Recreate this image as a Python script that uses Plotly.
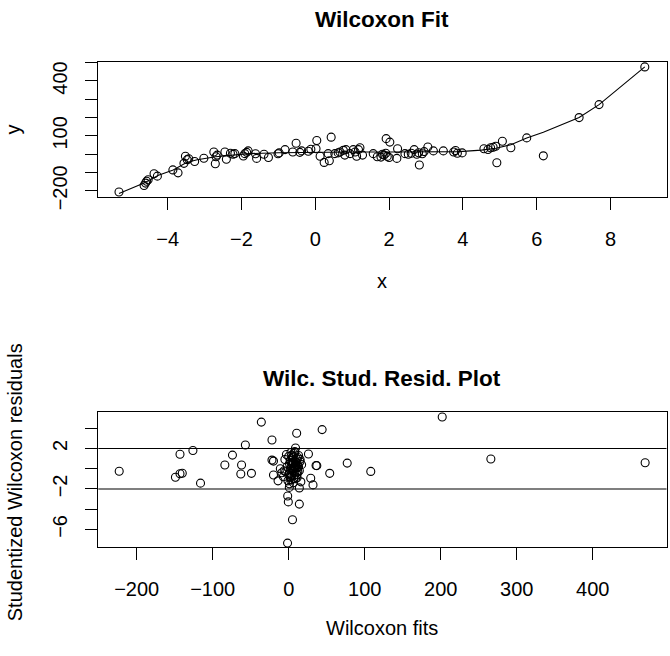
import plotly.graph_objects as go

# ---- Wilcoxon fit: observed points ----
x_obs = [-5.32, -4.64, -4.60, -4.57, -4.53, -4.37, -4.28, -3.86, -3.72, -3.52,
         -3.56, -3.47, -3.43, -3.27, -3.02, -2.75, -2.69, -2.71, -2.66, -2.45,
         -2.41, -2.30, -2.23, -2.18, -1.95, -1.91, -1.86, -1.82, -1.59, -1.62,
         -1.39, -1.27, -0.98, -1.01, -0.82, -0.61, -0.52, -0.42, -0.37, -0.19,
         -0.12, 0.04, 0.02, 0.13, 0.24, 0.38, 0.43, 0.35, 0.53, 0.62,
         0.67, 0.76, 0.83, 0.80, 0.94, 1.03, 1.08, 1.12, 1.17, 1.21,
         1.28, 1.57, 1.68, 1.78, 1.82, 1.86, 1.91, 1.92, 1.95, 2.02,
         2.00, 2.23, 2.21, 2.43, 2.52, 2.60, 2.68, 2.75, 2.80, 2.82,
         2.90, 2.95, 3.05, 3.20, 3.47, 3.75, 3.80, 3.85, 3.98, 4.57,
         4.68, 4.75, 4.82, 4.89, 4.92, 5.07, 5.30, 5.73, 6.18, 7.15,
         7.69, 8.93]
y_obs = [-207, -171, -158, -148, -140, -107, -120, -86, -102, -11,
         -50, -30, -25, -40, -22, 12, -14, -52, -5, 12,
         -28, 5, 0, 3, -10, 3, 10, 18, -23, 2,
         0, -18, 7, 2, 25, 12, 60, 10, 18, 16,
         27, 75, 30, -11, -45, -36, 93, 3, 3, 7,
         12, 21, 25, -5, 3, 25, 12, -11, 25, 35,
         -5, 3, -14, -16, 0, -5, 5, 85, -12, 66,
         -18, 30, -23, 3, 0, 5, 25, 0, 8, -59,
         2, 14, 39, 18, 18, 12, 20, 5, 7, 30,
         26, 35, 38, 43, -47, 71, 35, 89, -9, 200,
         271, 477]

# ---- fitted curve ----
fit_x = [-5.32, -4.64, -4.25, -3.85, -3.49, -3.20, -2.70, -2.20, -1.80, -1.00,
         0.00, 1.00, 2.00, 3.00, 3.90, 4.50, 4.90, 5.30, 5.73, 6.18,
         7.15, 7.69, 8.93]
fit_y = [-215, -158, -115, -86, -45, -30, -14, -3, 3, 8,
         11, 12, 12, 12, 14, 22, 32, 52, 88, 120,
         200, 271, 477]

# ---- studentized residuals vs fits ----
wfits = [-223, -149, -143, -140, -143, -126, -116, -84, -74, -63,
         -62, -57, -49, -36, -22, -22, -20, -20, -14, -11,
         -9, 10.5, 9, 8, 26, 36, 37, 29, 32, 44,
         54, 77, 108, 202, 266, 469, -1.3, -0.5, 14, 5,
         -1.5, 0.8, 14,
         0, 2, 4, 5, 6, 7, 8, 9, 10, 11,
         12, 3, 1, -2, -4, -5, -7, 13, 14, 15,
         16, 8, 3, -3, 11, 6, 4, 9, 12, 1,
         -1, 7, 10, 2, 5, 0, 3, 6, 9, 12,
         15, 4, 7, 10, 2, 13, -6, 17, 1, 8,
         5, 7, 3, 9, 11, 6, 2, 10]
wresid = [-0.26, -0.85, -0.50, -0.45, 1.43, 1.80, -1.43, 0.36, 1.34, -0.52,
          0.36, 2.34, -0.46, 4.60, 2.83, 0.85, 0.75, -0.62, -1.20, 0.00,
          -0.40, 3.50, 2.05, 1.70, 1.45, 0.32, 0.30, -0.95, -1.60, 3.86,
          -0.46, 0.55, -0.27, 5.10, 0.96, 0.58, -2.70, -3.28, -3.50, -5.05,
          -7.35, -1.85, -1.90,
          1.2, 0.8, 0.3, -0.2, 0.6, 1.5, -0.6, 0.1, 1.0, -0.9,
          0.4, -1.1, -0.5, 0.2, -0.3, 0.9, -0.8, 1.3, -0.2, 0.7,
          -1.3, 1.6, 1.6, 1.4, 0.1, -1.4, -0.7, -1.0, 1.1, 0.5,
          -1.2, 0.2, -0.4, -0.1, 1.1, -0.6, 0.6, 0.0, 0.4, -0.3,
          0.9, 1.3, -1.0, 0.6, -0.8, 0.2, -0.2, 0.4, -1.5, 0.0,
          0.5, -0.3, 0.0, 0.7, -0.6, 1.2, -0.9, 0.3]
ref_lines = [2, -2]

# ---- tick labels ----
top_x_ticks = [-4, -2, 0, 2, 4, 6, 8]
top_y_ticks = [-200, -100, 0, 100, 200, 300, 400, 500]
top_y_text = ["\u2212200", "", "", "100", "", "", "400", ""]
bot_x_ticks = [-200, -100, 0, 100, 200, 300, 400]
bot_y_ticks = [-6, -4, -2, 0, 2, 4]
bot_y_text = ["\u22126", "", "\u22122", "", "2", ""]

W, H = 670, 656
FONT = "Liberation Sans, Arial, Helvetica, sans-serif"
TICK = 20
TITLE = 22.5
BLACK = "#000000"


def px(xp):
    return xp / W


def py(yp):
    return 1 - yp / H


def minus(v):
    return f"{v:g}".replace("-", "\u2212")


marker = dict(symbol="circle-open", size=8, color=BLACK, line=dict(width=1.1, color=BLACK))

fig = go.Figure()
fig.add_trace(go.Scatter(x=x_obs, y=y_obs, mode="markers", marker=marker,
                         xaxis="x", yaxis="y", showlegend=False))
fig.add_trace(go.Scatter(x=fit_x, y=fit_y, mode="lines",
                         line=dict(color=BLACK, width=1.1),
                         xaxis="x", yaxis="y", showlegend=False))
fig.add_trace(go.Scatter(x=wfits, y=wresid, mode="markers", marker=marker,
                         xaxis="x2", yaxis="y2", showlegend=False))

axis_common = dict(showgrid=False, zeroline=False, showline=True, mirror=True,
                   linecolor=BLACK, linewidth=1, ticks="outside", ticklen=12,
                   tickwidth=1, tickcolor=BLACK,
                   tickfont=dict(family=FONT, size=TICK, color=BLACK))

x_dom = [px(98.3), px(666.5)]

fig.update_layout(
    width=W, height=H,
    margin=dict(l=0, r=0, t=0, b=0),
    paper_bgcolor="white", plot_bgcolor="white",
    xaxis=dict(axis_common, domain=x_dom, anchor="y", range=[-5.881, 9.518],
               tickvals=top_x_ticks, ticktext=[minus(v) for v in top_x_ticks],
               ticklabelstandoff=12),
    yaxis=dict(axis_common, domain=[py(200.9), py(63.3)], anchor="x",
               range=[-233.6, 503.6], tickvals=top_y_ticks, ticktext=top_y_text,
               tickangle=-90, ticklabelstandoff=10),
    xaxis2=dict(axis_common, domain=x_dom, anchor="y2", range=[-250.5, 497.1],
                tickvals=bot_x_ticks, ticktext=[minus(v) for v in bot_x_ticks],
                ticklabelstandoff=12),
    yaxis2=dict(axis_common, domain=[py(558), py(420)], anchor="x2",
                range=[-7.73, 5.63], tickvals=bot_y_ticks, ticktext=bot_y_text,
                tickangle=-90, ticklabelstandoff=10),
)

for v in ref_lines:
    fig.add_shape(type="line", xref="x2 domain", yref="y2", x0=0, x1=1, y0=v, y1=v,
                  line=dict(color=BLACK, width=1.1))


def label(text, xp, yp, size=TICK, bold=False, angle=0):
    fig.add_annotation(text=f"<b>{text}</b>" if bold else text,
                       x=px(xp), y=py(yp), xref="paper", yref="paper",
                       xanchor="center", yanchor="middle", showarrow=False,
                       textangle=angle,
                       font=dict(family=FONT, size=size, color=BLACK))


label("Wilcoxon Fit", 382, 20, size=TITLE, bold=True)
label("x", 382, 287)
label("y", 13, 132, angle=-90)
label("Wilc. Stud. Resid. Plot", 382, 386, size=TITLE, bold=True)
label("Wilcoxon fits", 382, 641)
label("Studentized Wilcoxon residuals", 15, 492, angle=-90)

fig.write_html("out.html")
